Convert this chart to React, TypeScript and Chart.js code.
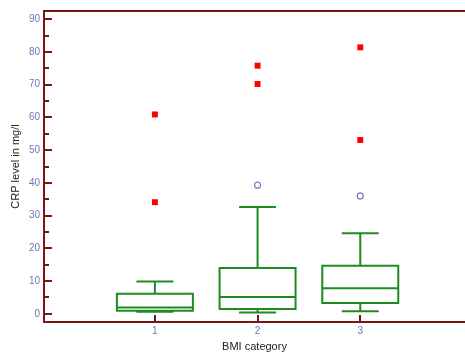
import React, { useEffect, useRef } from "react";
import { Chart, registerables } from "chart.js";
Chart.register(...registerables);

// ---- data ----
const categories = [1, 2, 3];
const xTickLabels = ["1", "2", "3"];
const whiskerLow = [0.6, 0.4, 0.8];
const q1 = [0.9, 1.5, 3.3];
const median = [1.9, 5.1, 7.8];
const q3 = [6.1, 14.0, 14.7];
const whiskerHigh = [9.9, 32.6, 24.6];
const outsideValues: number[][] = [[], [39.3], [36.0]];
const farOutValues: number[][] = [[34.1, 60.9], [70.2, 75.8], [53.1, 81.4]];
const yTicks = [0, 10, 20, 30, 40, 50, 60, 70, 80, 90];
const yMinorTicks = [5, 15, 25, 35, 45, 55, 65, 75, 85];

// ---- styles ----
const AXIS = "#7a1515";
const TICK = "#7474b8";
const GREEN = "#1f8a1f";
const RED = "#ff0000";
const CIRCLE = "#7b7bc8";
const FONT = "Arial, 'Liberation Sans', sans-serif";
const BOX_HALF = 0.37;
const CAP_HALF = 0.18;

const boxPlugin = {
  id: "boxes",
  beforeDatasetsDraw(chart: any) {
    const { ctx, scales } = chart;
    const x = scales.x;
    const y = scales.y;
    const py = (v: number) => y.getPixelForValue(v);
    ctx.save();
    ctx.strokeStyle = GREEN;
    ctx.lineWidth = 2;
    categories.forEach((c, i) => {
      const xc = x.getPixelForValue(c);
      const xl = x.getPixelForValue(c - BOX_HALF);
      const xr = x.getPixelForValue(c + BOX_HALF);
      const cl = x.getPixelForValue(c - CAP_HALF);
      const cr = x.getPixelForValue(c + CAP_HALF);
      ctx.beginPath();
      ctx.rect(xl, py(q3[i]), xr - xl, py(q1[i]) - py(q3[i]));
      ctx.moveTo(xl, py(median[i]));
      ctx.lineTo(xr, py(median[i]));
      ctx.moveTo(xc, py(q3[i]));
      ctx.lineTo(xc, py(whiskerHigh[i]));
      ctx.moveTo(cl, py(whiskerHigh[i]));
      ctx.lineTo(cr, py(whiskerHigh[i]));
      ctx.moveTo(xc, py(q1[i]));
      ctx.lineTo(xc, py(whiskerLow[i]));
      ctx.moveTo(cl, py(whiskerLow[i]));
      ctx.lineTo(cr, py(whiskerLow[i]));
      ctx.stroke();
    });
    ctx.restore();
  },
  afterDraw(chart: any) {
    const { ctx, scales, chartArea } = chart;
    const x = scales.x;
    const y = scales.y;
    ctx.save();
    ctx.strokeStyle = AXIS;
    ctx.lineWidth = 2;
    ctx.beginPath();
    yTicks.forEach((v) => {
      const p = Math.round(y.getPixelForValue(v));
      ctx.moveTo(chartArea.left, p);
      ctx.lineTo(chartArea.left + 8, p);
    });
    yMinorTicks.forEach((v) => {
      const p = Math.round(y.getPixelForValue(v));
      ctx.moveTo(chartArea.left, p);
      ctx.lineTo(chartArea.left + 5, p);
    });
    categories.forEach((c) => {
      const p = Math.round(x.getPixelForValue(c));
      ctx.moveTo(p, chartArea.bottom);
      ctx.lineTo(p, chartArea.bottom - 7);
    });
    ctx.moveTo(chartArea.left - 1, chartArea.top);
    ctx.lineTo(chart.width, chartArea.top);
    ctx.stroke();
    ctx.restore();
  },
};

export default function App() {
  const ref = useRef<HTMLCanvasElement>(null);
  useEffect(() => {
    document.body.style.margin = "0";
    const farOut: { x: number; y: number }[] = [];
    farOutValues.forEach((arr, i) => arr.forEach((v) => farOut.push({ x: categories[i], y: v })));
    const outside: { x: number; y: number }[] = [];
    outsideValues.forEach((arr, i) => arr.forEach((v) => outside.push({ x: categories[i], y: v })));
    const chart = new Chart(ref.current!, {
      type: "scatter",
      data: {
        datasets: [
          {
            data: farOut,
            pointStyle: "rect",
            pointRadius: 4.2,
            backgroundColor: RED,
            borderColor: RED,
            borderWidth: 0,
          },
          {
            data: outside,
            pointStyle: "circle",
            pointRadius: 3,
            backgroundColor: "#ffffff",
            borderColor: CIRCLE,
            borderWidth: 1.2,
          },
        ],
      },
      plugins: [boxPlugin],
      options: {
        animation: false,
        responsive: false,
        devicePixelRatio: 1,
        layout: { autoPadding: false, padding: { left: 0, right: 0, top: 11, bottom: 0 } },
        plugins: { legend: { display: false }, tooltip: { enabled: false } },
        scales: {
          x: {
            type: "linear",
            min: -0.08,
            max: 4.02,
            grid: { display: false, drawTicks: false },
            border: { display: true, color: AXIS, width: 2 },
            afterBuildTicks: (s: any) => {
              s.ticks = categories.map((v) => ({ value: v }));
            },
            afterFit: (s: any) => {
              s.height = 30;
              s.paddingLeft = 0;
              s.paddingRight = 0;
            },
            ticks: {
              color: TICK,
              font: { size: 10, family: FONT },
              padding: 3,
              maxRotation: 0,
              autoSkip: false,
              callback: (v: any) => {
                const i = categories.indexOf(Number(v));
                return i >= 0 ? xTickLabels[i] : "";
              },
            },
            title: {
              display: true,
              text: "BMI category",
              color: "#222222",
              font: { size: 11, family: FONT },
              padding: { top: 0, bottom: -2 },
            },
          },
          y: {
            type: "linear",
            min: -2.5,
            max: 92.5,
            grid: { display: false, drawTicks: false },
            border: { display: true, color: AXIS, width: 2 },
            afterBuildTicks: (s: any) => {
              s.ticks = yTicks.map((v) => ({ value: v }));
            },
            afterFit: (s: any) => {
              s.width = 44;
              s.paddingTop = 0;
              s.paddingBottom = 0;
            },
            ticks: {
              color: TICK,
              font: { size: 10, family: FONT },
              padding: 4,
            },
            title: {
              display: true,
              text: "CRP level in mg/l",
              color: "#222222",
              font: { size: 11, family: FONT },
              padding: { top: 9, bottom: 0 },
            },
          },
        },
      },
    } as any);
    return () => chart.destroy();
  }, []);
  return (
    <div style={{ width: 465, height: 352 }}>
      <canvas ref={ref} width={465} height={352} />
    </div>
  );
}
